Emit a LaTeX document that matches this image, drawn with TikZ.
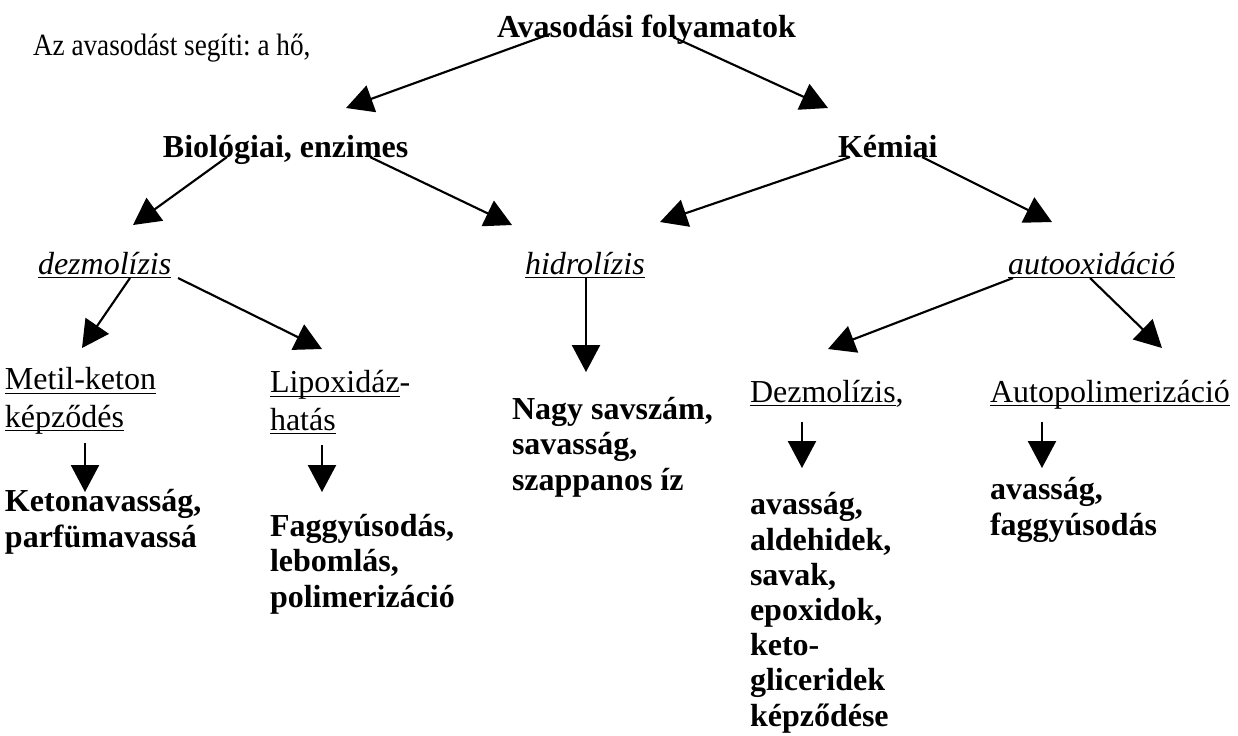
\documentclass[tikz,border=0pt]{standalone}
\usepackage{fontspec}
\usepackage{graphicx}
\setmainfont{Liberation Serif}
\frenchspacing
\newsavebox{\myulbox}
\newcommand{\myul}[1]{\sbox{\myulbox}{#1}\rlap{\rule[-1.6pt]{\wd\myulbox}{0.45pt}}\usebox{\myulbox}}
\usetikzlibrary{arrows.meta,calc}
\tikzset{
  lbl/.style={anchor=base west, inner sep=0pt, outer sep=0pt, align=left},
  reg/.style={lbl, font=\fontsize{12pt}{13.9pt}\selectfont},
  bld/.style={lbl, font=\fontsize{12pt}{13.2pt}\selectfont\bfseries},
  arr/.style={line width=0.8pt, -{Triangle[length=10.1pt,width=10.5pt]}}
}
\begin{document}
\begin{tikzpicture}[x=0.375pt,y=-0.375pt]
\useasboundingbox (0,0) rectangle (1238,735);
% labels (multi-line nodes: base = baseline of last line)
\node[lbl, font=\fontsize{11.6pt}{13pt}\selectfont] (seg) at (33,55) {\scalebox{0.88}[1]{Az avasodást segíti: a hő,}};
\node[bld] (head) at (497,37) {Avasodási folyamatok};
\node[bld] (bio) at (163,157) {Biológiai, enzimes};
\node[bld] (kem) at (838,157) {Kémiai};
\node[reg] (dez) at (38,274) {\myul{\itshape dezmolízis}};
\node[reg] (hid) at (525,274) {\myul{\itshape hidrolízis}};
\node[reg] (auto) at (1008,274) {\myul{\itshape autooxidáció}};
\node[reg] (metil) at (5,427) {\myul{Metil-keton}\\\myul{képződés}};
\node[reg] (lipo) at (270,430) {\myul{Lipoxidáz}-\\\myul{hatás}};
\node[reg] (dezm) at (750,402) {\myul{Dezmolízis},};
\node[reg] (autop) at (990,402) {\myul{Autopolimerizáció}};
\node[bld] (nagy) at (512,490) {Nagy savszám,\\savasság,\\szappanos íz};
\node[bld] (keton) at (5,547) {Ketonavasság,\\parfümavassá};
\node[bld] (fagy) at (270,607) {Faggyúsodás,\\lebomlás,\\polimerizáció};
\node[bld] (avl) at (750,726) {avasság,\\aldehidek,\\savak,\\epoxidok,\\keto-\\gliceridek\\képződése};
\node[bld] (avr) at (990,535) {avasság,\\faggyúsodás};
% connectors
\draw[arr] ($(head.base west)+(53,-3)$) -- ($(bio.base west)+(183,-49)$);
\draw[arr] ($(head.base west)+(176,0)$) -- ($(kem.base west)+(-10,-49)$);
\draw[arr] ($(bio.base west)+(64,0)$) -- ($(dez.base west)+(95,-49)$);
\draw[arr] ($(bio.base west)+(207,0)$) -- ($(hid.base west)+(-13,-49)$);
\draw[arr] ($(kem.base west)+(12,0)$) -- ($(hid.base west)+(135,-52)$);
\draw[arr] ($(kem.base west)+(84,0)$) -- ($(auto.base west)+(44,-52)$);
\draw[arr] ($(dez.base west)+(92,4)$) -- ($(metil.base west)+(77,-79)$);
\draw[arr] ($(dez.base west)+(140,4)$) -- ($(lipo.base west)+(52,-81)$);
\draw[arr] ($(hid.base west)+(61,4)$) -- ($(nagy.base west)+(74,-118)$);
\draw[arr] ($(auto.base west)+(5,4)$) -- ($(dezm.base west)+(78,-53)$);
\draw[arr] ($(auto.base west)+(82,4)$) -- ($(autop.base west)+(172,-54)$);
\draw[arr] ($(dezm.base west)+(52,20)$) -- ($(avl.base west)+(52,-258)$);
\draw[arr] ($(metil.base west)+(80,16)$) -- ($(keton.base west)+(80,-55)$);
\draw[arr] ($(lipo.base west)+(52,15)$) -- ($(fagy.base west)+(52,-115)$);
\draw[arr] ($(autop.base west)+(52,20)$) -- ($(avr.base west)+(52,-67)$);
\end{tikzpicture}
\end{document}
